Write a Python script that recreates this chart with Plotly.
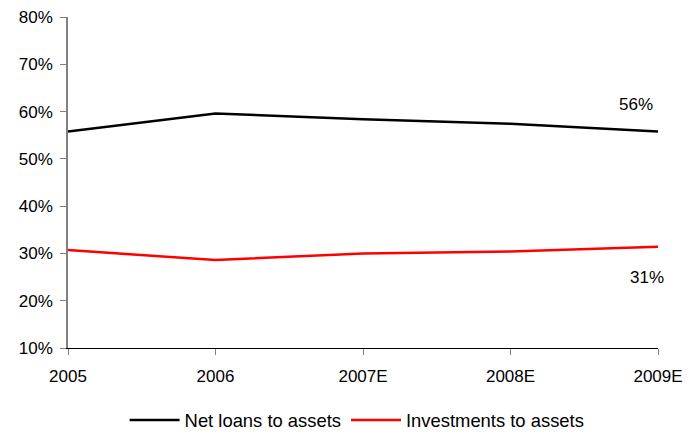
import plotly.graph_objects as go

years = ["2005", "2006", "2007E", "2008E", "2009E"]
net_loans = [0.558, 0.596, 0.584, 0.574, 0.558]
investments = [0.307, 0.286, 0.300, 0.304, 0.314]
y_ticks = [0.1, 0.2, 0.3, 0.4, 0.5, 0.6, 0.7, 0.8]

font = dict(family="Liberation Sans, Arial, sans-serif", size=17, color="#000000")
legend_font = dict(family="Liberation Sans, Arial, sans-serif", size=18.4, color="#000000")
xs = list(range(len(years)))

fig = go.Figure()
fig.add_trace(go.Scatter(x=xs, y=net_loans, mode="lines", name="Net loans to assets",
                         line=dict(color="#000000", width=2.5)))
fig.add_trace(go.Scatter(x=xs, y=investments, mode="lines", name="Investments to assets",
                         line=dict(color="#ff0000", width=2.5)))

# end-of-series value labels
fig.add_annotation(x=xs[-1], y=net_loans[-1], text=f"{net_loans[-1]:.0%}", showarrow=False,
                   xshift=-22, yshift=27, font=font)
fig.add_annotation(x=xs[-1], y=investments[-1], text=f"{investments[-1]:.0%}", showarrow=False,
                   xshift=-11, yshift=-31, font=font)

fig.update_layout(
    width=699, height=434,
    margin=dict(l=68, r=41, t=17, b=86, autoexpand=False),
    paper_bgcolor="white", plot_bgcolor="white",
    font=font,
    showlegend=True,
    legend=dict(orientation="h", x=0.49, xanchor="center", y=-0.2175, yanchor="middle",
                font=legend_font, itemwidth=50),
)
fig.update_xaxes(range=[0, 4], tickvals=xs, ticktext=years, showgrid=False, zeroline=False,
                 showline=True, linecolor="#000000", linewidth=1,
                 ticks="outside", ticklen=6, tickcolor="#808080", tickfont=font,
                 ticklabelstandoff=7)
fig.update_yaxes(range=[0.1, 0.8], tickvals=y_ticks, tickformat=".0%", showgrid=False,
                 zeroline=False, showline=True, linecolor="#808080", linewidth=1.5,
                 ticks="outside", ticklen=6, tickcolor="#808080", tickfont=font,
                 ticklabelstandoff=4)

fig.write_html("out.html")
